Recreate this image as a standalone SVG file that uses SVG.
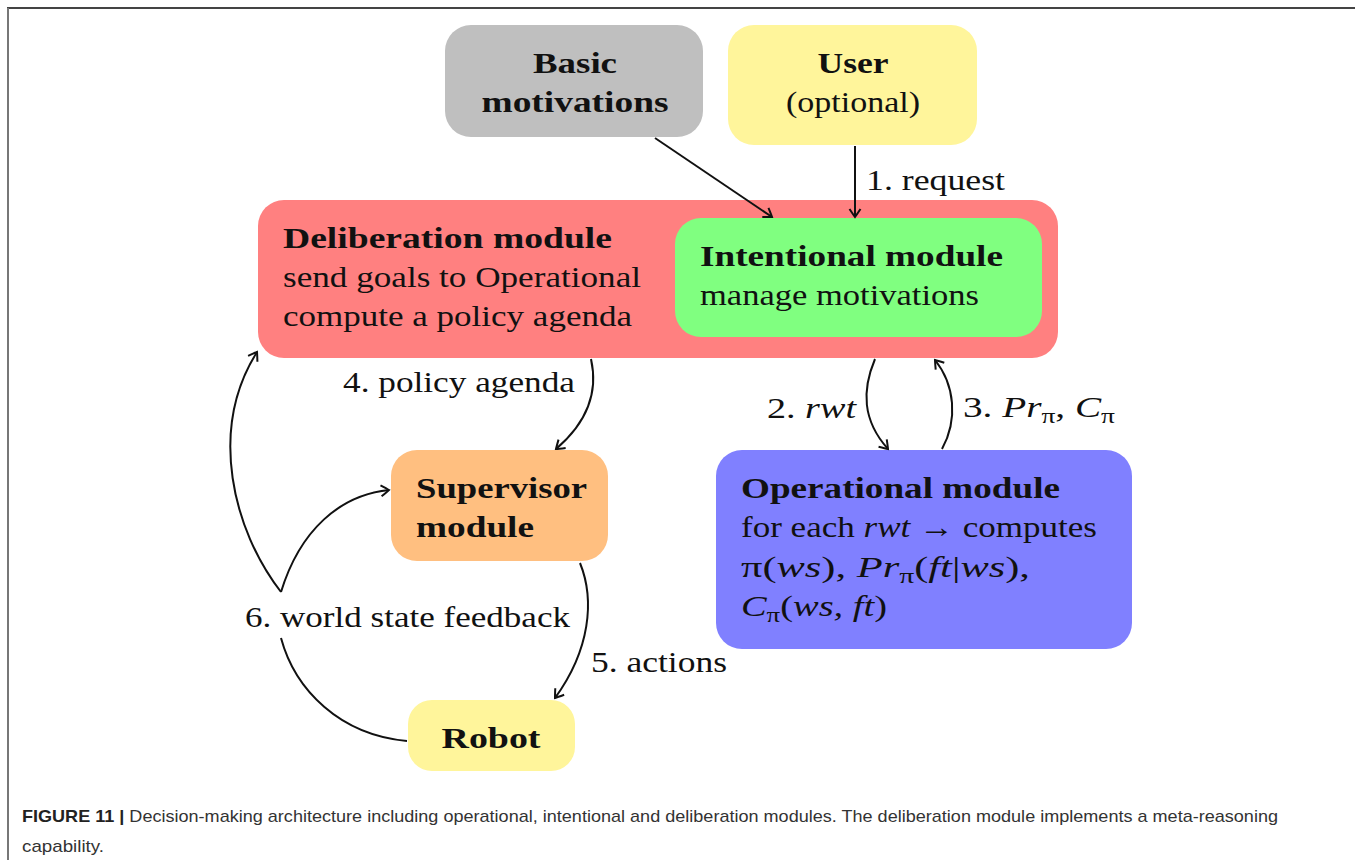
<svg xmlns="http://www.w3.org/2000/svg" width="1355" height="860" viewBox="0 0 1355 860">
<style>
.t{font-family:"Liberation Serif","DejaVu Serif",serif;font-size:30px;fill:#111}
.b{font-weight:bold}
.i{font-style:italic}
.c{stroke:#111;stroke-width:2;fill:none;marker-end:url(#ah)}
.cn{stroke:#111;stroke-width:2;fill:none}
.cap{font-family:"Liberation Sans","Arial",sans-serif;font-size:17px;fill:#333}
</style>
<defs>
<marker id="ah" markerUnits="userSpaceOnUse" markerWidth="16" markerHeight="16" viewBox="-10 -8 12 16" refX="0" refY="0" orient="auto">
<path d="M-8,-5.5 Q-2,-1.5 0,0 Q-2,1.5 -8,5.5" stroke="#111" stroke-width="2" fill="none"/>
</marker>
</defs>
<rect width="1355" height="860" fill="#fff"/>
<path d="M7,8 H1355" stroke="#444" stroke-width="2"/>
<path d="M8,8 V860" stroke="#777" stroke-width="2"/>

<g id="basic">
<rect x="445" y="25" width="258" height="112" rx="26" fill="#bfbfbf"/>
<text class="t b" x="575" y="73" text-anchor="middle" textLength="84" lengthAdjust="spacingAndGlyphs">Basic</text>
<text class="t b" x="575" y="112" text-anchor="middle" textLength="187" lengthAdjust="spacingAndGlyphs">motivations</text>
</g>
<g id="user">
<rect x="728" y="25" width="249" height="120" rx="26" fill="#fff59b"/>
<text class="t b" x="853" y="73" text-anchor="middle" textLength="71" lengthAdjust="spacingAndGlyphs">User</text>
<text class="t" x="853" y="112" text-anchor="middle" textLength="134" lengthAdjust="spacingAndGlyphs">(optional)</text>
</g>
<g id="deliberation">
<rect x="258" y="200" width="800" height="158" rx="26" fill="#ff8080"/>
<text class="t b" x="283" y="248" textLength="329" lengthAdjust="spacingAndGlyphs">Deliberation module</text>
<text class="t" x="283" y="287" textLength="358" lengthAdjust="spacingAndGlyphs">send goals to Operational</text>
<text class="t" x="283" y="326" textLength="349" lengthAdjust="spacingAndGlyphs">compute a policy agenda</text>
</g>
<g id="intentional">
<rect x="675" y="218" width="367" height="119" rx="26" fill="#80ff80"/>
<text class="t b" x="700" y="266" textLength="303" lengthAdjust="spacingAndGlyphs">Intentional module</text>
<text class="t" x="700" y="305" textLength="279" lengthAdjust="spacingAndGlyphs">manage motivations</text>
</g>
<g id="supervisor">
<rect x="391" y="450" width="217" height="111" rx="26" fill="#ffbf80"/>
<text class="t b" x="416" y="498" textLength="171" lengthAdjust="spacingAndGlyphs">Supervisor</text>
<text class="t b" x="416" y="537" textLength="118" lengthAdjust="spacingAndGlyphs">module</text>
</g>
<g id="operational">
<rect x="716" y="450" width="416" height="199" rx="26" fill="#8080ff"/>
<text class="t b" x="741" y="498" textLength="319" lengthAdjust="spacingAndGlyphs">Operational module</text>
<text class="t" x="741" y="537" textLength="356" lengthAdjust="spacingAndGlyphs">for each <tspan class="i">rwt</tspan> → computes</text>
<text class="t" x="741" y="577" textLength="289" lengthAdjust="spacingAndGlyphs">π(<tspan class="i">ws</tspan>), <tspan class="i">Pr</tspan><tspan font-size="21" dy="6">π</tspan><tspan dy="-6">(</tspan><tspan class="i">ft</tspan>|<tspan class="i">ws</tspan>),</text>
<text class="t" x="741" y="616" textLength="146" lengthAdjust="spacingAndGlyphs"><tspan class="i">C</tspan><tspan font-size="21" dy="6">π</tspan><tspan dy="-6">(</tspan><tspan class="i">ws, ft</tspan>)</text>
</g>
<g id="robot">
<rect x="408" y="700" width="167" height="71" rx="24" fill="#fff59b"/>
<text class="t b" x="491" y="748" text-anchor="middle" textLength="99" lengthAdjust="spacingAndGlyphs">Robot</text>
</g>

<g id="connectors">
<path class="c" d="M655,138 L772,217"/>
<path class="c" d="M855,146 L855,217"/>
<path class="c" d="M875,359 C862,390 862,420 888,449"/>
<path class="c" d="M942,449 C958,420 955,385 935,360"/>
<path class="c" d="M591,359 C598,390 590,420 556,449"/>
<path class="c" d="M580,563 C595,600 590,650 555,698"/>
<path class="cn" d="M407,741 C340,735 295,690 281,638"/>
<path class="c" d="M281,592 C300,530 340,495 389,490"/>
<path class="c" d="M281,592 C233,530 208,430 257,352"/>
</g>
<g id="labels">
<text class="t" x="866" y="190" textLength="139" lengthAdjust="spacingAndGlyphs">1. request</text>
<text class="t" x="343" y="392" textLength="232" lengthAdjust="spacingAndGlyphs">4. policy agenda</text>
<text class="t" x="767" y="418" textLength="89" lengthAdjust="spacingAndGlyphs">2. <tspan class="i">rwt</tspan></text>
<text class="t" x="963" y="417" textLength="152" lengthAdjust="spacingAndGlyphs">3. <tspan class="i">Pr</tspan><tspan font-size="21" dy="6">π</tspan><tspan dy="-6">, </tspan><tspan class="i">C</tspan><tspan font-size="21" dy="6">π</tspan></text>
<text class="t" x="245" y="627" textLength="325" lengthAdjust="spacingAndGlyphs">6. world state feedback</text>
<text class="t" x="591" y="672" textLength="136" lengthAdjust="spacingAndGlyphs">5. actions</text>
</g>
<g id="caption">
<text class="cap" x="22" y="822" textLength="1256" lengthAdjust="spacingAndGlyphs"><tspan font-weight="bold" fill="#222">FIGURE 11 |</tspan> Decision-making architecture including operational, intentional and deliberation modules. The deliberation module implements a meta-reasoning</text>
<text class="cap" x="22" y="852" textLength="82" lengthAdjust="spacingAndGlyphs">capability.</text>
</g>
</svg>
